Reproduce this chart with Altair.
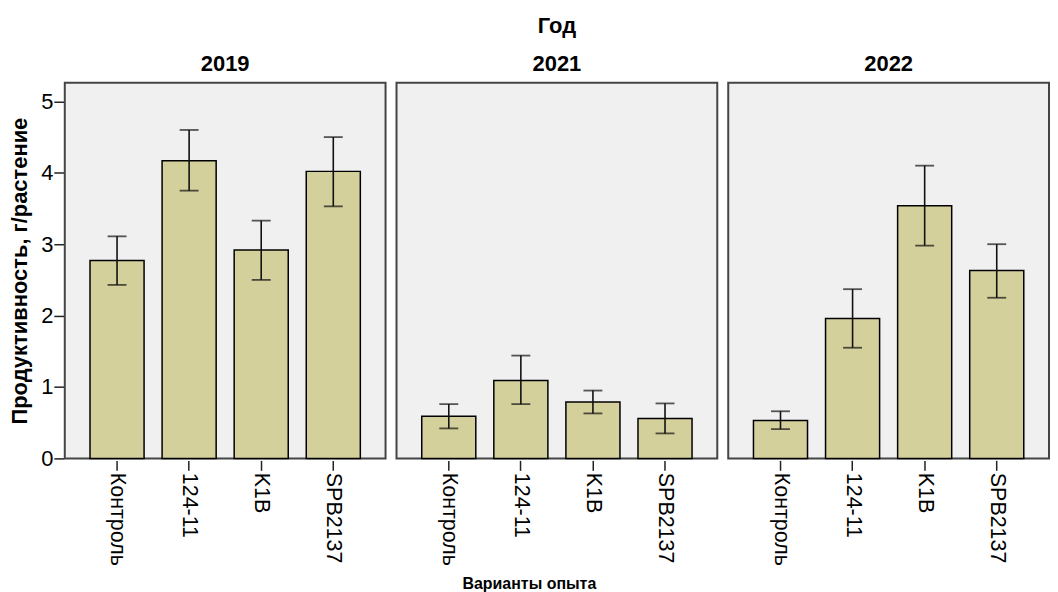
import altair as alt
import pandas as pd

years = ["2019", "2021", "2022"]
variants = ["Контроль", "124-11", "K1B", "SPB2137"]

mean_2019 = [2.77, 4.17, 2.92, 4.02]
lo_2019 = [2.43, 3.75, 2.50, 3.53]
hi_2019 = [3.11, 4.60, 3.33, 4.50]

mean_2021 = [0.59, 1.09, 0.79, 0.56]
lo_2021 = [0.42, 0.76, 0.63, 0.35]
hi_2021 = [0.76, 1.44, 0.95, 0.77]

mean_2022 = [0.53, 1.96, 3.54, 2.63]
lo_2022 = [0.41, 1.55, 2.98, 2.25]
hi_2022 = [0.66, 2.37, 4.10, 3.00]

rows = []
for yr, m, lo, hi in [("2019", mean_2019, lo_2019, hi_2019),
                      ("2021", mean_2021, lo_2021, hi_2021),
                      ("2022", mean_2022, lo_2022, hi_2022)]:
    for v, a, b, c in zip(variants, m, lo, hi):
        rows.append({"Год": yr, "Вариант": v, "mean": a, "lo": b, "hi": c})
df = pd.DataFrame(rows)

FONT = "Liberation Sans"

x = alt.X("Вариант:N", sort=variants, title=None,
          scale=alt.Scale(paddingInner=0.25, paddingOuter=0.35),
          axis=alt.Axis(labelAngle=90, labelFontSize=21.5, labelColor="black",
                        tickSize=10, tickColor="#222", tickWidth=1.5,
                        domain=False, labelPadding=2))
yscale = alt.Scale(domain=[0, 5.26], nice=False)

bars = alt.Chart().mark_bar(fill="#d4d09b", stroke="black", strokeWidth=1.5).encode(
    x=x,
    y=alt.Y("mean:Q", scale=yscale, title="Продуктивность, г/растение",
            axis=alt.Axis(values=[0, 1, 2, 3, 4, 5], format="d", grid=False,
                          labelFontSize=22, labelColor="black", tickSize=10,
                          tickColor="#222", tickWidth=1.5, domain=False,
                          labelPadding=1, titleFontSize=22, titleFontWeight="bold",
                          titleColor="black", titlePadding=9)),
)
rule = alt.Chart().mark_rule(color="#111", strokeWidth=1.6).encode(
    x=alt.X("Вариант:N", sort=variants), y="lo:Q", y2="hi:Q")
cap_hi = alt.Chart().mark_tick(color="#111", size=19, thickness=1.8).encode(
    x=alt.X("Вариант:N", sort=variants), y="hi:Q")
cap_lo = alt.Chart().mark_tick(color="#111", size=19, thickness=1.8).encode(
    x=alt.X("Вариант:N", sort=variants), y="lo:Q")

layer = alt.layer(bars, rule, cap_hi, cap_lo).properties(width=322, height=377)

chart = layer.facet(
    data=df,
    column=alt.Column("Год:N", sort=years,
                      header=alt.Header(title="Год", titleFontSize=22, titleFontWeight="bold",
                                        titleColor="black", titlePadding=5,
                                        labelFontSize=22, labelFontWeight="bold",
                                        labelColor="black", labelPadding=6)),
    spacing=9,
).properties(
    title=alt.TitleParams(text="Варианты опыта", orient="bottom", anchor="middle",
                          fontSize=16, fontWeight="bold", color="black", offset=11)
).configure(
    font=FONT, padding={"left": 0, "top": 6, "right": 0, "bottom": 0}
).configure_view(
    fill="#f0f0f0", stroke="#444", strokeWidth=2
)

chart.save("out.html", embed_options={"renderer": "svg", "actions": False})
